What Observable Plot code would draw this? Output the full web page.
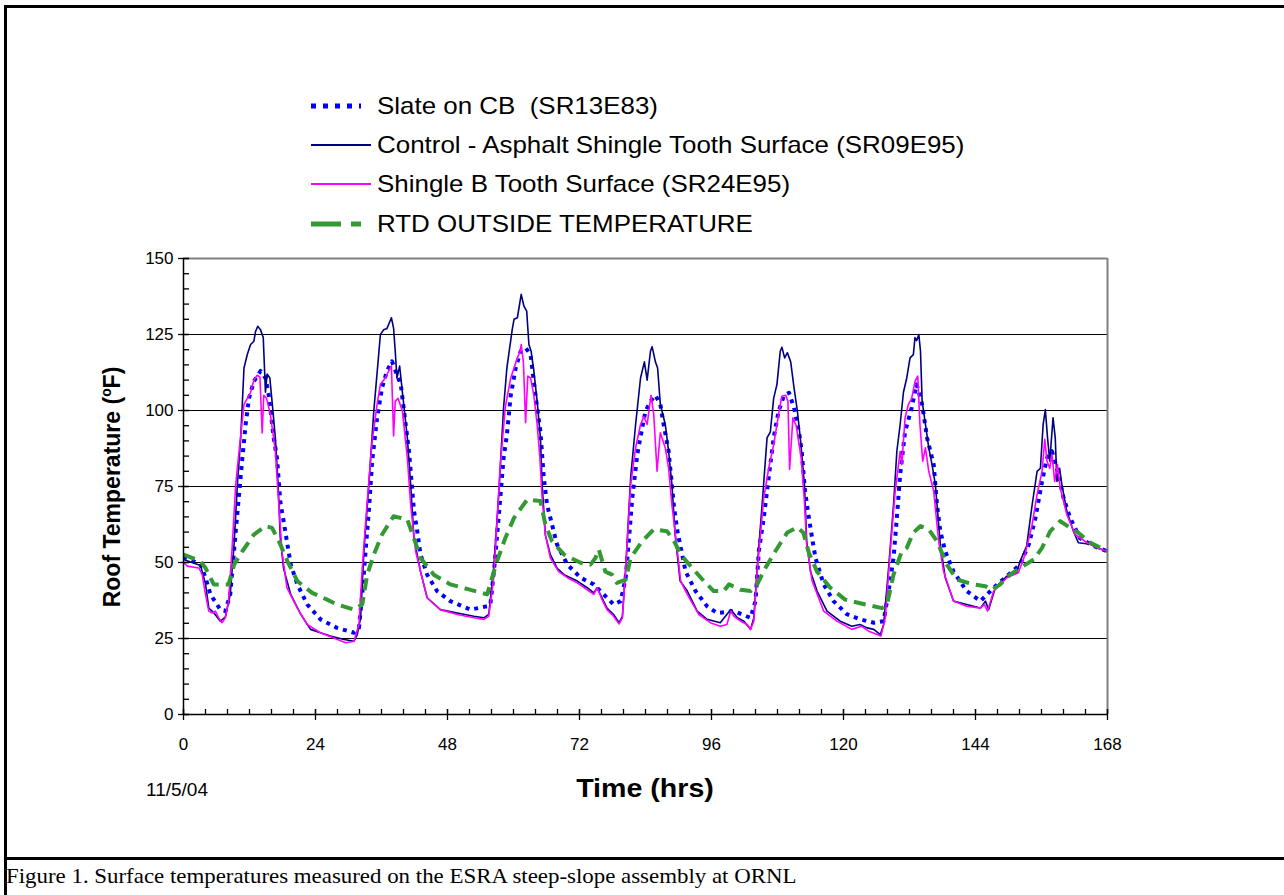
<!DOCTYPE html>
<html><head><meta charset="utf-8">
<script src="https://cdn.jsdelivr.net/npm/d3@7"></script>
<script src="https://cdn.jsdelivr.net/npm/@observablehq/plot@0.6"></script>
<style>
body{margin:0;background:#fff;}
#page{position:relative;width:1284px;height:895px;overflow:hidden;font-family:Arial,"Liberation Sans",sans-serif;color:#000;}
#page svg.plot{position:absolute;left:0;top:0;}
.abs{position:absolute;white-space:nowrap;}
</style></head>
<body><div id="page"></div>
<script>
// ---- data: [hour, °F] ----
const slate = [[0,52],[3.1,49.3],[4,45],[4.9,39.5],[6.7,34.5],[7.6,34],[8.5,39.5],[9.5,60.3],[10.1,72.4],[10.7,84.4],[11.3,95.4],[11.9,104],[12.8,109.6],[14,113],[14.9,110.7],[15.5,105],[16.4,91],[17,84.4],[17.6,70],[18.2,63.6],[19.5,49.3],[20.7,42.8],[22.5,36.2],[24.9,31.3],[27.9,28.5],[31,26.9],[31.9,28.5],[32.5,39.5],[33.1,53.7],[33.7,67],[34.3,83.3],[35.2,97.6],[36.1,107.5],[37,113],[37.9,116.2],[38.8,111.8],[39.5,108.6],[40.1,99.8],[41,86.6],[41.9,67],[42.5,60.3],[43.1,52.6],[44.3,46],[46.1,40.6],[48.5,37.3],[52.2,34.5],[55.2,35.6],[55.8,36.2],[56.6,50],[57.6,71.3],[58.2,84.4],[58.8,92],[59.5,105],[60.4,114],[61.3,119.5],[62.2,120.6],[63.1,118.4],[64,105],[64.9,93],[65.5,78],[66.1,69],[67,62.5],[67.9,56],[69.8,49.3],[72.2,45],[74.6,42.8],[76.4,39.5],[78.2,36.2],[79.5,37.3],[80.4,45],[81,58],[81.6,71.3],[82.5,85.5],[83.4,94.3],[84,99.8],[84.9,103],[85.8,105],[86.7,102],[87.3,95.4],[88.2,86.6],[89.2,68],[89.8,60.3],[91.3,47],[93.1,40.6],[95.2,35.6],[97,33.4],[100.1,34],[103.1,31.8],[104,37.3],[104.6,53.7],[105.5,64.7],[106.4,77.9],[107.3,91],[108.2,99.8],[109.2,105],[110.1,105.8],[111,100.9],[111.9,93],[112.4,86.6],[113,73.5],[113.7,64.7],[114.3,58],[114.9,51.5],[116.4,42.8],[118.2,37.3],[120.6,33],[123,31.3],[125.5,30.2],[127.3,30.7],[128.2,40.6],[129.1,51.5],[129.7,64.7],[130.3,79],[131.2,93],[132.4,101],[133.3,108.6],[134.3,102],[135.2,91],[136.4,82.2],[137,69],[137.6,60.3],[138.5,53.7],[140,47],[142.4,40.6],[144.9,37.3],[147.3,41.7],[149.7,45.5],[152.1,49.3],[153.7,56],[154.9,64.7],[156.1,76.7],[157,84.4],[157.9,86.6],[158.8,81],[160,71.3],[161.2,64.7],[163,58],[165.5,55.4],[168,53.7]];

const control = [[0,51],[3.1,49],[4,43],[4.6,35],[5.5,33.5],[6.7,30.7],[7.6,32],[8.5,39.5],[9.2,56],[9.8,75.7],[10.4,91],[11,114],[11.6,118.4],[12.2,121.7],[12.8,122.8],[13.1,126],[13.5,127.7],[14,126.6],[14.5,124],[14.9,106],[15.2,112],[15.7,110.7],[16.1,103],[16.7,91],[17.2,75.7],[17.6,58],[18.2,48],[19.5,39.5],[21.3,33],[23.1,28],[24.9,26.9],[26.7,25.8],[29.2,24.7],[31,24.1],[31.6,26.3],[32.2,31.8],[32.8,53.7],[33.7,75.7],[34.6,99.8],[35.8,125],[36.4,126.6],[37,127],[37.8,130.5],[38.2,127],[38.5,119.5],[38.8,110.7],[39.3,114.6],[39.8,106],[40.7,91],[41.3,75.7],[41.9,58],[43.1,47],[44.3,38.4],[46.7,34.5],[49.8,33.4],[52.8,32.3],[54.6,31.8],[55.5,32.9],[56.4,48],[57.3,72],[58.2,101],[58.8,114],[59.8,127],[60.1,130],[60.7,130.5],[61,133.8],[61.4,138.2],[61.9,134.3],[62.4,132.7],[62.8,121.7],[63.2,119.5],[63.7,113],[64.3,103],[64.9,91],[65.2,75.7],[65.8,59],[66.7,52.6],[67.9,48.2],[69.2,46],[71.6,43.9],[73.4,41.7],[74.6,40],[75.2,41.7],[76.1,38.4],[77,35],[78.2,32.9],[79.2,30.2],[79.8,32.3],[80.4,48],[81.3,77.9],[82.2,95.4],[83.1,110.7],[83.8,116],[84.3,110],[84.9,119.5],[85.2,121],[85.8,116],[86.2,114],[86.7,102],[87.6,95.4],[88.2,86.6],[88.8,75.7],[89.4,59],[90.3,43.9],[91.6,40.6],[93.4,34],[95.2,31.3],[97.6,30.2],[99.5,34.5],[100.7,31.8],[101.9,30.7],[103.1,28],[103.7,31.8],[104.3,48],[105.2,69],[106.1,91],[106.7,93],[107.3,104],[107.9,108.6],[108.5,119.5],[108.8,120.8],[109.3,117.3],[109.8,119],[110.4,116],[111,107.5],[111.6,100],[112.2,90],[112.9,75.7],[113.3,57],[114,47],[115.2,40.6],[117,34],[119.4,30.7],[121.5,29],[123,29.6],[124.3,28.5],[125.5,28],[126.7,26.3],[127.3,29.6],[128.2,48.2],[129.1,69],[129.7,86.6],[130.3,95.4],[130.9,106],[131.5,110.7],[132.1,117.3],[132.7,118.4],[133,124],[133.3,123],[133.7,125],[134,119.5],[134.3,103],[134.9,95.4],[135.5,87.7],[136.1,82.2],[136.7,75.7],[137.6,56],[138.5,45],[140,37.3],[142.4,36.2],[144.9,35],[145.8,37.3],[146.4,34.5],[147.6,41.7],[149.7,45.5],[151.5,46.6],[152.1,50.4],[153.3,55.4],[154.3,69],[155.2,80],[155.8,81],[156.3,95.4],[156.7,100.3],[157.1,91],[157.5,83.3],[158.1,97.6],[158.5,91],[158.8,76.7],[159.3,81],[159.7,75.7],[160.6,66.9],[161.8,60.3],[162.7,56.5],[164.9,56],[166.1,54.8],[168,53.7]];

const shingle = [[0,50],[0.7,48.8],[2.8,48.2],[3.4,46],[4,39.5],[4.6,34],[5.2,33.4],[5.8,34],[6.4,31.8],[7,30.2],[7.6,31.8],[8.2,37.3],[8.8,53.7],[9.5,75.7],[10.1,86.6],[11,102],[11.6,104],[12.2,106],[12.8,110],[13.4,111.6],[13.9,111],[14.3,92.6],[14.6,105],[15.1,104],[15.8,98.7],[16.7,86.6],[17.3,70],[17.9,53.7],[18.8,41.7],[20.7,35],[22.5,29.6],[24.9,26.9],[27.3,25.2],[29.5,23.6],[31,24.1],[31.9,29.6],[32.5,48.2],[33.4,70],[34.3,90],[35.2,102],[35.8,108.6],[36.7,110.7],[37.3,113],[37.8,114.6],[38.2,91.6],[38.5,103],[39,104],[39.8,99.8],[40.7,84.4],[41.3,69],[42.2,53.7],[44.3,38.4],[46.7,34.5],[49.8,32.9],[52.8,31.8],[54.6,31.3],[55.5,32.3],[56.4,45],[56.9,60],[57.6,82],[58.5,101],[59.5,110.7],[60.1,114],[60.7,117.3],[61.2,119.5],[61.4,121.7],[61.8,116],[62.2,96],[62.6,111.3],[63.1,110.7],[63.7,105],[64.3,95.4],[64.8,84.4],[65.2,71.3],[65.8,59],[66.7,51.5],[68.2,47],[69.8,45],[71.6,43.3],[73.4,41],[74.6,39.5],[75.2,41.7],[76.1,37.8],[77,34.5],[78.2,32.3],[79.2,29.8],[79.8,31.8],[80.4,48.2],[81.3,75.7],[82.2,87.7],[83.1,95.4],[83.7,98],[84.3,95.4],[85,105],[85.5,98.7],[86.1,80],[86.7,92.7],[87.6,87.7],[88.2,81],[88.8,69],[89.8,53.7],[90.4,43.9],[91.6,39.5],[93.7,32.9],[95.8,30.2],[97.6,29],[98.8,29.6],[99.5,34],[100.1,32.3],[101.3,30.7],[102.5,29.6],[103.1,28],[103.7,30.7],[104.3,47],[105.5,71.3],[106.4,81],[107.3,88.8],[108.2,98.7],[108.8,104.7],[109.5,105],[109.9,103],[110.2,80.6],[110.8,97.6],[111.4,95],[112.3,84.4],[112.9,70],[113.3,56],[114.3,43.9],[116.4,34],[118.8,30.7],[121.5,28],[123.3,29],[124.6,27.4],[126.1,26.3],[126.8,25.8],[127.6,31.8],[128.5,53.7],[129.4,73.5],[130.3,86.6],[130.6,82.2],[131.2,97.6],[131.8,102],[132.4,104],[133,109.6],[133.5,111.3],[133.9,95.4],[134.4,83.3],[134.9,87.7],[135.5,80],[136.4,73.5],[137.3,57],[138.2,47],[140,37.3],[142.4,35.6],[144.9,35],[145.6,36.2],[146.2,34],[147.3,40.6],[149.7,45],[151.8,46.6],[153,52.6],[154.3,62.5],[155.2,72.4],[156.1,80],[156.6,90.5],[157,83.3],[157.5,81],[157.9,85.5],[158.4,76.7],[158.9,82.2],[159.4,74.6],[160.6,65.8],[162.1,59.2],[164.3,56.5],[166.1,54.8],[168,53.7]];

const rtd = [[0,52.6],[3.1,50.4],[4,48.2],[5.5,42.8],[8.2,42.8],[9.2,49.3],[10.7,53.7],[12.8,59.2],[14.9,62],[16.1,61.4],[17.6,56],[18.9,50.4],[20.7,43.9],[23.4,40],[26.1,37.8],[27.9,36.2],[31,34.5],[32.5,36.2],[33.4,46],[34.6,52.6],[36.1,59.2],[38.2,65.2],[40.7,64.1],[41.9,58],[43.1,51.5],[45.5,46],[48.5,42.8],[52.2,41],[55.2,39.5],[57,50.4],[58.5,58],[60.1,64.7],[62.5,70.7],[64.9,70.2],[65.8,62.5],[67,57],[69.2,52.6],[72.2,49.9],[74,49.3],[74.9,51.5],[75.5,54.3],[76.7,47],[77.9,46],[78.8,43.3],[80.4,44.4],[81.3,51.5],[83.4,57],[85.5,60.9],[87.9,60.3],[89.2,57],[90.4,52.6],[92.5,48.2],[94.6,43.9],[96.4,40.6],[98.2,40.6],[99.2,42.8],[101.3,41],[103.1,40.6],[104.3,42.8],[105.8,48.2],[107.6,53.7],[109.8,59.9],[111.6,61.6],[112.7,59.8],[113.7,53.2],[115.2,47],[117.6,41.7],[120.3,37.8],[124,36.2],[127,35],[127.9,36.2],[129.1,46],[130.6,53.7],[131.5,54.8],[132.7,59.8],[134,62],[135.5,60.9],[137,57],[138.8,49.3],[140.6,44.4],[143.6,42.8],[145.8,42.2],[147,41],[148.5,42.8],[150.3,46],[152.1,48.2],[154.6,51],[156.1,54.8],[157.6,60.3],[159.4,63.6],[161.2,61.4],[162.7,59.8],[164.9,56.5],[166.1,55.4],[168,53.7]];

const seriesNames = ["Slate on CB  (SR13E83)", "Control - Asphalt Shingle Tooth Surface (SR09E95)", "Shingle B Tooth Surface (SR24E95)", "RTD OUTSIDE TEMPERATURE"];
const xTicks = [0, 24, 48, 72, 96, 120, 144, 168];
const yTicks = [0, 25, 50, 75, 100, 125, 150];
const xMinor = d3.range(0, 169, 4);
const yMinor = d3.range(0, 151, 5);
const gridY = [25, 50, 75, 100, 125];

// ---- styles ----
const styles = [
  {stroke: "#0000ff", strokeWidth: 4, dash: "4,5", legendDash: "5,7", legendWidth: 5},
  {stroke: "#000080", strokeWidth: 1.6, dash: null, legendDash: null, legendWidth: 2},
  {stroke: "#ff00ff", strokeWidth: 1.6, dash: null, legendDash: null, legendWidth: 2},
  {stroke: "#339933", strokeWidth: 4, dash: "12,7", legendDash: "30,10", legendWidth: 5}
];
const W = 1284, H = 895, ML = 183, MR = 177, MT = 258, MB = 181;
const PW = W - ML - MR, PH = H - MT - MB;

const lineOpts = (s) => ({x: d => d[0], y: d => d[1], stroke: s.stroke, strokeWidth: s.strokeWidth, strokeDasharray: s.dash, strokeLinecap: "butt", strokeLinejoin: "round"});

const chart = Plot.plot({
  width: W, height: H,
  marginLeft: ML, marginRight: MR, marginTop: MT, marginBottom: MB,
  x: {domain: [0, 168]},
  y: {domain: [0, 150]},
  style: {fontFamily: 'Arial, "Liberation Sans", sans-serif', fontSize: "17px", color: "#000", background: "transparent", overflow: "visible"},
  marks: [
    Plot.ruleY(gridY, {stroke: "#000", strokeWidth: 1}),
    Plot.ruleY([150], {stroke: "#808080", strokeWidth: 2}),
    Plot.ruleX([168], {stroke: "#808080", strokeWidth: 2}),
    Plot.line(slate, lineOpts(styles[0])),
    Plot.line(control, lineOpts(styles[1])),
    Plot.line(shingle, lineOpts(styles[2])),
    Plot.line(rtd, lineOpts(styles[3])),
    Plot.ruleX([0], {stroke: "#000", strokeWidth: 1.5}),
    Plot.ruleY([0], {stroke: "#000", strokeWidth: 1.5}),
    Plot.tickY(yMinor, {stroke: "#000", strokeWidth: 1.3, insetRight: PW - 6}),
    Plot.tickY(yTicks, {stroke: "#000", strokeWidth: 1.3, insetLeft: -5, insetRight: PW - 6}),
    Plot.tickX(xMinor, {stroke: "#000", strokeWidth: 1.3, insetTop: PH - 5}),
    Plot.tickX(xTicks, {stroke: "#000", strokeWidth: 1.3, insetTop: PH - 5, insetBottom: -6}),
    Plot.axisY({ticks: yTicks, tickSize: 0, tickPadding: 10, label: null, fontSize: 17}),
    Plot.axisX({ticks: xTicks, tickSize: 0, tickPadding: 23, label: null, fontSize: 17})
  ]
});
chart.classList.add("plot");
const page = document.getElementById("page");
page.appendChild(chart);

function add(html, css) {
  const d = document.createElement("div");
  d.className = "abs";
  d.innerHTML = html;
  Object.assign(d.style, css);
  page.appendChild(d);
  return d;
}
// outer frame
add("", {left: "4px", top: "5px", width: "1300px", height: "855px", border: "3px solid #000", boxSizing: "border-box"});
add("", {left: "4px", top: "5px", width: "3px", height: "890px", background: "#000"});
// caption
add("Figure 1. Surface temperatures measured on the ESRA steep-slope assembly at ORNL",
  {left: "6px", top: "863px", fontFamily: '"Liberation Serif","Times New Roman",serif', fontSize: "22px", lineHeight: "26px", transformOrigin: "0 50%", transform: "scaleX(1.04)"});
// axis titles
add("Time (hrs)", {left: "645px", top: "788px", transform: "translate(-50%,-50%) scaleX(1.1)", fontWeight: "bold", fontSize: "26px"});
add("Roof Temperature (<sup style='font-size:0.6em;vertical-align:0.6em'>o</sup>F)", {left: "112px", top: "487px", transform: "translate(-50%,-50%) rotate(-90deg)", fontWeight: "bold", fontSize: "23px"});
add("11/5/04", {left: "146px", top: "790px", transform: "translateY(-50%)", fontSize: "19px"});
// legend
const legendY = [106, 145, 184, 224];
seriesNames.forEach((name, i) => {
  const s = styles[i];
  const len = s.legendDash ? 50 : 60;
  const sw = `<svg width="${len}" height="8" style="position:absolute;left:0;top:-4px;overflow:visible"><line x1="0" x2="${len}" y1="4" y2="4" stroke="${s.stroke}" stroke-width="${s.legendWidth}" ${s.legendDash ? `stroke-dasharray="${s.legendDash}"` : ""}/></svg>`;
  add(sw, {left: "311px", top: legendY[i] + "px"});
  add(name, {left: "377px", top: legendY[i] + "px", transformOrigin: "0 50%", transform: "translateY(-50%) scaleX(1.08)", fontSize: "24px", whiteSpace: "pre"});
});
</script></body></html>
